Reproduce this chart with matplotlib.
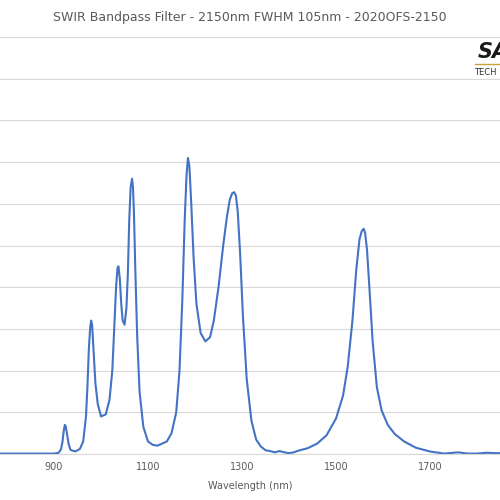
import matplotlib
matplotlib.use("Agg")
import matplotlib.pyplot as plt
import numpy as np

# wavelength (nm) and transmission (%)
wavelength = [780, 850, 900, 910, 915, 918, 921, 923, 925, 928, 931, 935, 945, 955, 962, 968, 971, 974,
              977, 979, 981, 984, 988, 993, 1000, 1010, 1018, 1024, 1028, 1032, 1035, 1037, 1040,
              1043, 1046, 1050, 1054, 1057, 1060, 1063, 1066, 1068, 1070, 1073, 1077, 1082, 1090,
              1100, 1110, 1120, 1130, 1140, 1150, 1160, 1167, 1173, 1178, 1182, 1185, 1188, 1192,
              1197, 1203, 1212, 1222, 1232, 1240, 1250, 1260, 1268, 1274, 1279, 1283, 1287, 1291,
              1296, 1302, 1310, 1320, 1330, 1340, 1350, 1360, 1370, 1380, 1390, 1400, 1410,
              1420, 1440, 1460, 1480, 1500, 1515, 1525, 1535, 1543, 1550, 1555, 1559, 1562, 1566,
              1571, 1578, 1587, 1597, 1610, 1625, 1645, 1670, 1700, 1730, 1760, 1780, 1800, 1820, 1840, 1850]
transmission = [0.1, 0.1, 0.1, 0.3, 1.2, 3.0, 5.8, 7.0, 6.6, 4.5, 2.4, 1.0, 0.6, 1.2, 3.0, 9.0, 16.0, 25.0,
                30.5, 32.0, 31.0, 25.0, 17.0, 12.0, 9.0, 9.5, 13.0, 20.0, 30.0, 40.0, 44.5, 45.0, 42.0,
                36.0, 32.0, 31.0, 35.0, 43.0, 56.0, 64.0, 66.0, 64.0, 58.0, 44.0, 28.0, 15.0, 6.5,
                3.0, 2.2, 2.0, 2.5, 3.0, 5.0, 10.0, 20.0, 37.0, 56.0, 67.0, 71.0, 69.0, 60.0,
                47.0, 36.0, 29.0, 27.0, 28.0, 32.0, 40.0, 50.0, 57.0, 61.0, 62.5, 62.8, 62.0, 58.0,
                48.0, 33.0, 18.0, 8.0, 3.5, 1.8, 0.9, 0.7, 0.4, 0.7, 0.4, 0.2, 0.4,
                0.8, 1.4, 2.5, 4.5, 8.5, 14.0, 21.0, 32.0, 44.0, 51.5, 53.5, 54.0, 53.0, 49.0,
                40.0, 27.0, 16.0, 10.5, 7.0, 4.8, 3.0, 1.5, 0.6, 0.1, 0.4, 0.1, 0.1, 0.3, 0.2, 0.2]

fig = plt.figure(figsize=(5, 5), dpi=100)
ax = fig.add_axes([0.0, 0.092, 1.0, 0.834])
ax.plot(wavelength, transmission, color="#4472C4", linewidth=1.5)
ax.set_xlim(785, 1849)
ax.set_ylim(0, 100)
ax.set_xticks([900, 1100, 1300, 1500, 1700])
ax.set_yticks(np.arange(0, 101, 10))
ax.tick_params(axis="x", length=0, labelsize=7, colors="#595959", pad=6)
ax.tick_params(axis="y", length=0, labelleft=False)
ax.grid(axis="y", color="#D9D9D9", linewidth=0.8)
for s in ["top", "left", "right"]:
    ax.spines[s].set_visible(False)
ax.spines["bottom"].set_color("#D9D9D9")
ax.set_xlabel("Wavelength (nm)", fontsize=7, color="#595959", labelpad=6)

fig.text(0.5, 0.965, "SWIR Bandpass Filter - 2150nm FWHM 105nm - 2020OFS-2150",
         ha="center", va="center", fontsize=9, color="#595959")
fig.text(0.955, 0.895, "SA", fontsize=15, fontweight="bold", style="italic",
         color="#1a1a1a", va="center")
fig.text(0.948, 0.855, "TECH", fontsize=6, color="#333333", va="center")
fig.add_artist(plt.Line2D([0.95, 1.0], [0.872, 0.872], color="#C8A040", linewidth=1))

fig.savefig("out.png")
